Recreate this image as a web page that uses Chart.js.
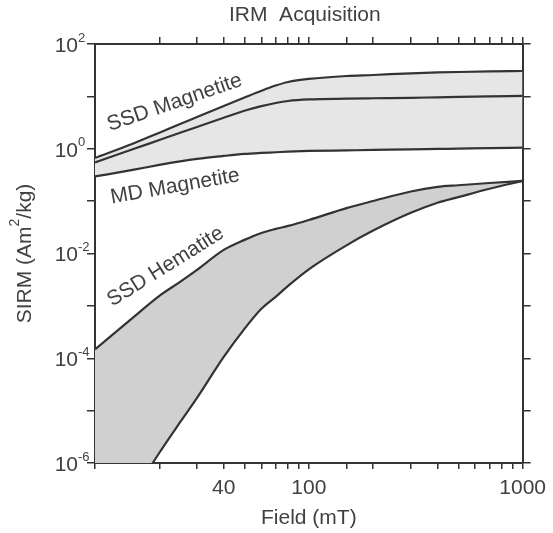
<!DOCTYPE html>
<html>
<head>
<meta charset="utf-8">
<title>IRM Acquisition</title>
<script src="https://cdn.jsdelivr.net/npm/chart.js@4.4.1/dist/chart.umd.min.js"></script>
<style>
  html, body { margin: 0; padding: 0; background: #fff; }
  #irm-chart { display: block; }
</style>
</head>
<body>
<canvas id="irm-chart" width="553" height="533"></canvas>
<script>
// --- Data (log-log) ---
const fieldMT = [10, 15, 20, 25, 30, 40, 50, 60, 70, 80, 100, 150, 200, 300, 400, 500, 700, 1000];
const ssdMagUpper = [0.67, 1.25, 2.03, 2.97, 4.04, 6.56, 9.5, 12.8, 16.1, 18.8, 21.5, 24.5, 25.6, 27.6, 28.6, 29.2, 29.9, 30.5];
const ssdMagLower = [0.55, 0.975, 1.47, 2.02, 2.61, 3.92, 5.3, 6.5, 7.48, 8.17, 8.73, 9.04, 9.2, 9.4, 9.6, 9.75, 9.96, 10.2];
const mdMag = [0.296, 0.394, 0.491, 0.573, 0.639, 0.729, 0.796, 0.832, 0.857, 0.881, 0.907, 0.931, 0.948, 0.974, 0.991, 1.005, 1.026, 1.05];
const ssdHemUpper = [1.48e-4, 5.9e-4, 1.55e-3, 2.87e-3, 4.86e-3, 0.0117, 0.0182, 0.0247, 0.0295, 0.0336, 0.0437, 0.0735, 0.1005, 0.153, 0.187, 0.201, 0.222, 0.243];
const ssdHemLower = [2.0e-8, 2.5e-7, 1.57e-6, 6.0e-6, 1.75e-5, 1.06e-4, 3.64e-4, 8.8e-4, 1.49e-3, 2.41e-3, 4.99e-3, 0.0143, 0.0274, 0.0598, 0.093, 0.119, 0.172, 0.243];

// --- Axis ticks ---
const xLabelTicks = [40, 100, 1000];
const yDecades = [1e2, 1e1, 1e0, 1e-1, 1e-2, 1e-3, 1e-4, 1e-5, 1e-6];
const yLabelExps = [2, 0, -2, -4, -6];

// --- Curve labels (data coords + angle) ---
const curveNames = ['SSD Magnetite', 'MD Magnetite', 'SSD Hematite'];
const curveNameField = [23.6, 23.7, 21.4];
const curveNameSIRM = [7.6, 0.19, 5.6e-3];
const curveNameAngle = [-19, -10, -32];

const TEXT = '#414141';
const AXIS = '#333';
const FONT = '"Liberation Sans", Arial, sans-serif';
const MAG_FILL = '#e6e6e6';
const HEM_FILL = '#d0d0d0';

Chart.defaults.font.family = FONT;
Chart.defaults.color = TEXT;

const pts = arr => fieldMT.map((f, i) => ({ x: f, y: arr[i] }));

function curve(arr, fill, bg) {
  return {
    data: pts(arr),
    borderColor: AXIS, borderWidth: 2.2,
    pointRadius: 0, cubicInterpolationMode: 'monotone',
    fill: fill, backgroundColor: bg
  };
}

// --- Text drawn on top: title, axis titles, y tick labels, curve names ---
const textPlugin = {
  id: 'irmText',
  afterDraw(chart) {
    const ctx = chart.ctx, area = chart.chartArea;
    const xs = chart.scales.x, ys = chart.scales.y;
    const midX = (area.left + area.right) / 2;
    ctx.save();
    ctx.fillStyle = TEXT;
    ctx.textBaseline = 'middle';
    ctx.textAlign = 'center';
    ctx.font = '21px ' + FONT;
    ctx.fillText('IRM  Acquisition', midX - 4, 15);
    ctx.fillText('Field (mT)', midX, 518);

    // y title with raised "2"
    ctx.save();
    ctx.translate(25, (area.top + area.bottom) / 2);
    ctx.rotate(-Math.PI / 2);
    const a = 'SIRM (Am', b = '/kg)';
    ctx.font = '21px ' + FONT;
    const wa = ctx.measureText(a).width, wb = ctx.measureText(b).width;
    ctx.font = '14px ' + FONT;
    const w2 = ctx.measureText('2').width;
    let sx = -(wa + w2 + wb) / 2;
    ctx.textAlign = 'left';
    ctx.font = '21px ' + FONT;
    ctx.fillText(a, sx, 0);
    ctx.font = '14px ' + FONT;
    ctx.fillText('2', sx + wa, -10);
    ctx.font = '21px ' + FONT;
    ctx.fillText(b, sx + wa + w2, 0);
    ctx.restore();

    // y tick labels with superscript exponents
    yLabelExps.forEach(e => {
      const py = ys.getPixelForValue(Math.pow(10, e));
      ctx.textAlign = 'right';
      ctx.font = '21px ' + FONT;
      ctx.fillText('10', area.left - 17, py + 2);
      ctx.textAlign = 'left';
      ctx.font = '13px ' + FONT;
      ctx.fillText(e < 0 ? '-' + (-e) : String(e), area.left - 17, py - 6);
    });

    // rotated curve names
    ctx.font = '21px ' + FONT;
    ctx.textAlign = 'center';
    curveNames.forEach((name, i) => {
      ctx.save();
      ctx.translate(xs.getPixelForValue(curveNameField[i]), ys.getPixelForValue(curveNameSIRM[i]));
      ctx.rotate(curveNameAngle[i] * Math.PI / 180);
      ctx.fillText(name, 0, 0);
      ctx.restore();
    });
    ctx.restore();
  }
};

const logX = {
  type: 'logarithmic', min: 10, max: 1000
};

new Chart(document.getElementById('irm-chart').getContext('2d'), {
  type: 'line',
  data: {
    datasets: [
      curve(ssdMagUpper, '+2', MAG_FILL),
      curve(ssdMagLower, false, MAG_FILL),
      curve(mdMag, false, MAG_FILL),
      curve(ssdHemUpper, '+1', HEM_FILL),
      curve(ssdHemLower, false, HEM_FILL)
    ]
  },
  options: {
    responsive: false,
    animation: false,
    events: [],
    layout: { padding: 0 },
    plugins: {
      legend: { display: false },
      title: { display: false },
      tooltip: { enabled: false },
      filler: { drawTime: 'beforeDatasetsDraw' }
    },
    scales: {
      x: {
        ...logX, position: 'bottom',
        border: { display: true, color: AXIS, width: 2 },
        grid: { drawOnChartArea: false, drawTicks: true, tickLength: 6, tickColor: AXIS, lineWidth: 1.5 },
        ticks: {
          autoSkip: false, maxRotation: 0, padding: 7, color: TEXT,
          font: { size: 21 },
          callback: v => xLabelTicks.includes(v) ? String(v) : ''
        },
        afterFit: s => { s.height = 70; }
      },
      xTop: {
        ...logX, position: 'top',
        border: { display: true, color: AXIS, width: 2 },
        grid: {
          drawOnChartArea: false, drawTicks: true, tickLength: 7, lineWidth: 1.5,
          tickColor: c => (c.tick && c.tick.value === 10) ? 'rgba(0,0,0,0)' : AXIS
        },
        ticks: { display: false },
        afterFit: s => { s.height = 44; }
      },
      y: {
        type: 'logarithmic', min: 1e-6, max: 1e2, position: 'left',
        border: { display: true, color: AXIS, width: 2 },
        grid: { drawOnChartArea: false, drawTicks: true, tickLength: 8, tickColor: AXIS, lineWidth: 1.5 },
        ticks: { display: false },
        afterBuildTicks: s => { s.ticks = yDecades.map(v => ({ value: v })); },
        afterFit: s => { s.width = 95; }
      },
      yRight: {
        type: 'logarithmic', min: 1e-6, max: 1e2, position: 'right',
        border: { display: true, color: AXIS, width: 2 },
        grid: { drawOnChartArea: false, drawTicks: true, tickLength: 8, tickColor: AXIS, lineWidth: 1.5 },
        ticks: { display: false },
        afterBuildTicks: s => { s.ticks = yDecades.map(v => ({ value: v })); },
        afterFit: s => { s.width = 30; }
      }
    }
  },
  plugins: [textPlugin]
});
</script>
</body>
</html>
